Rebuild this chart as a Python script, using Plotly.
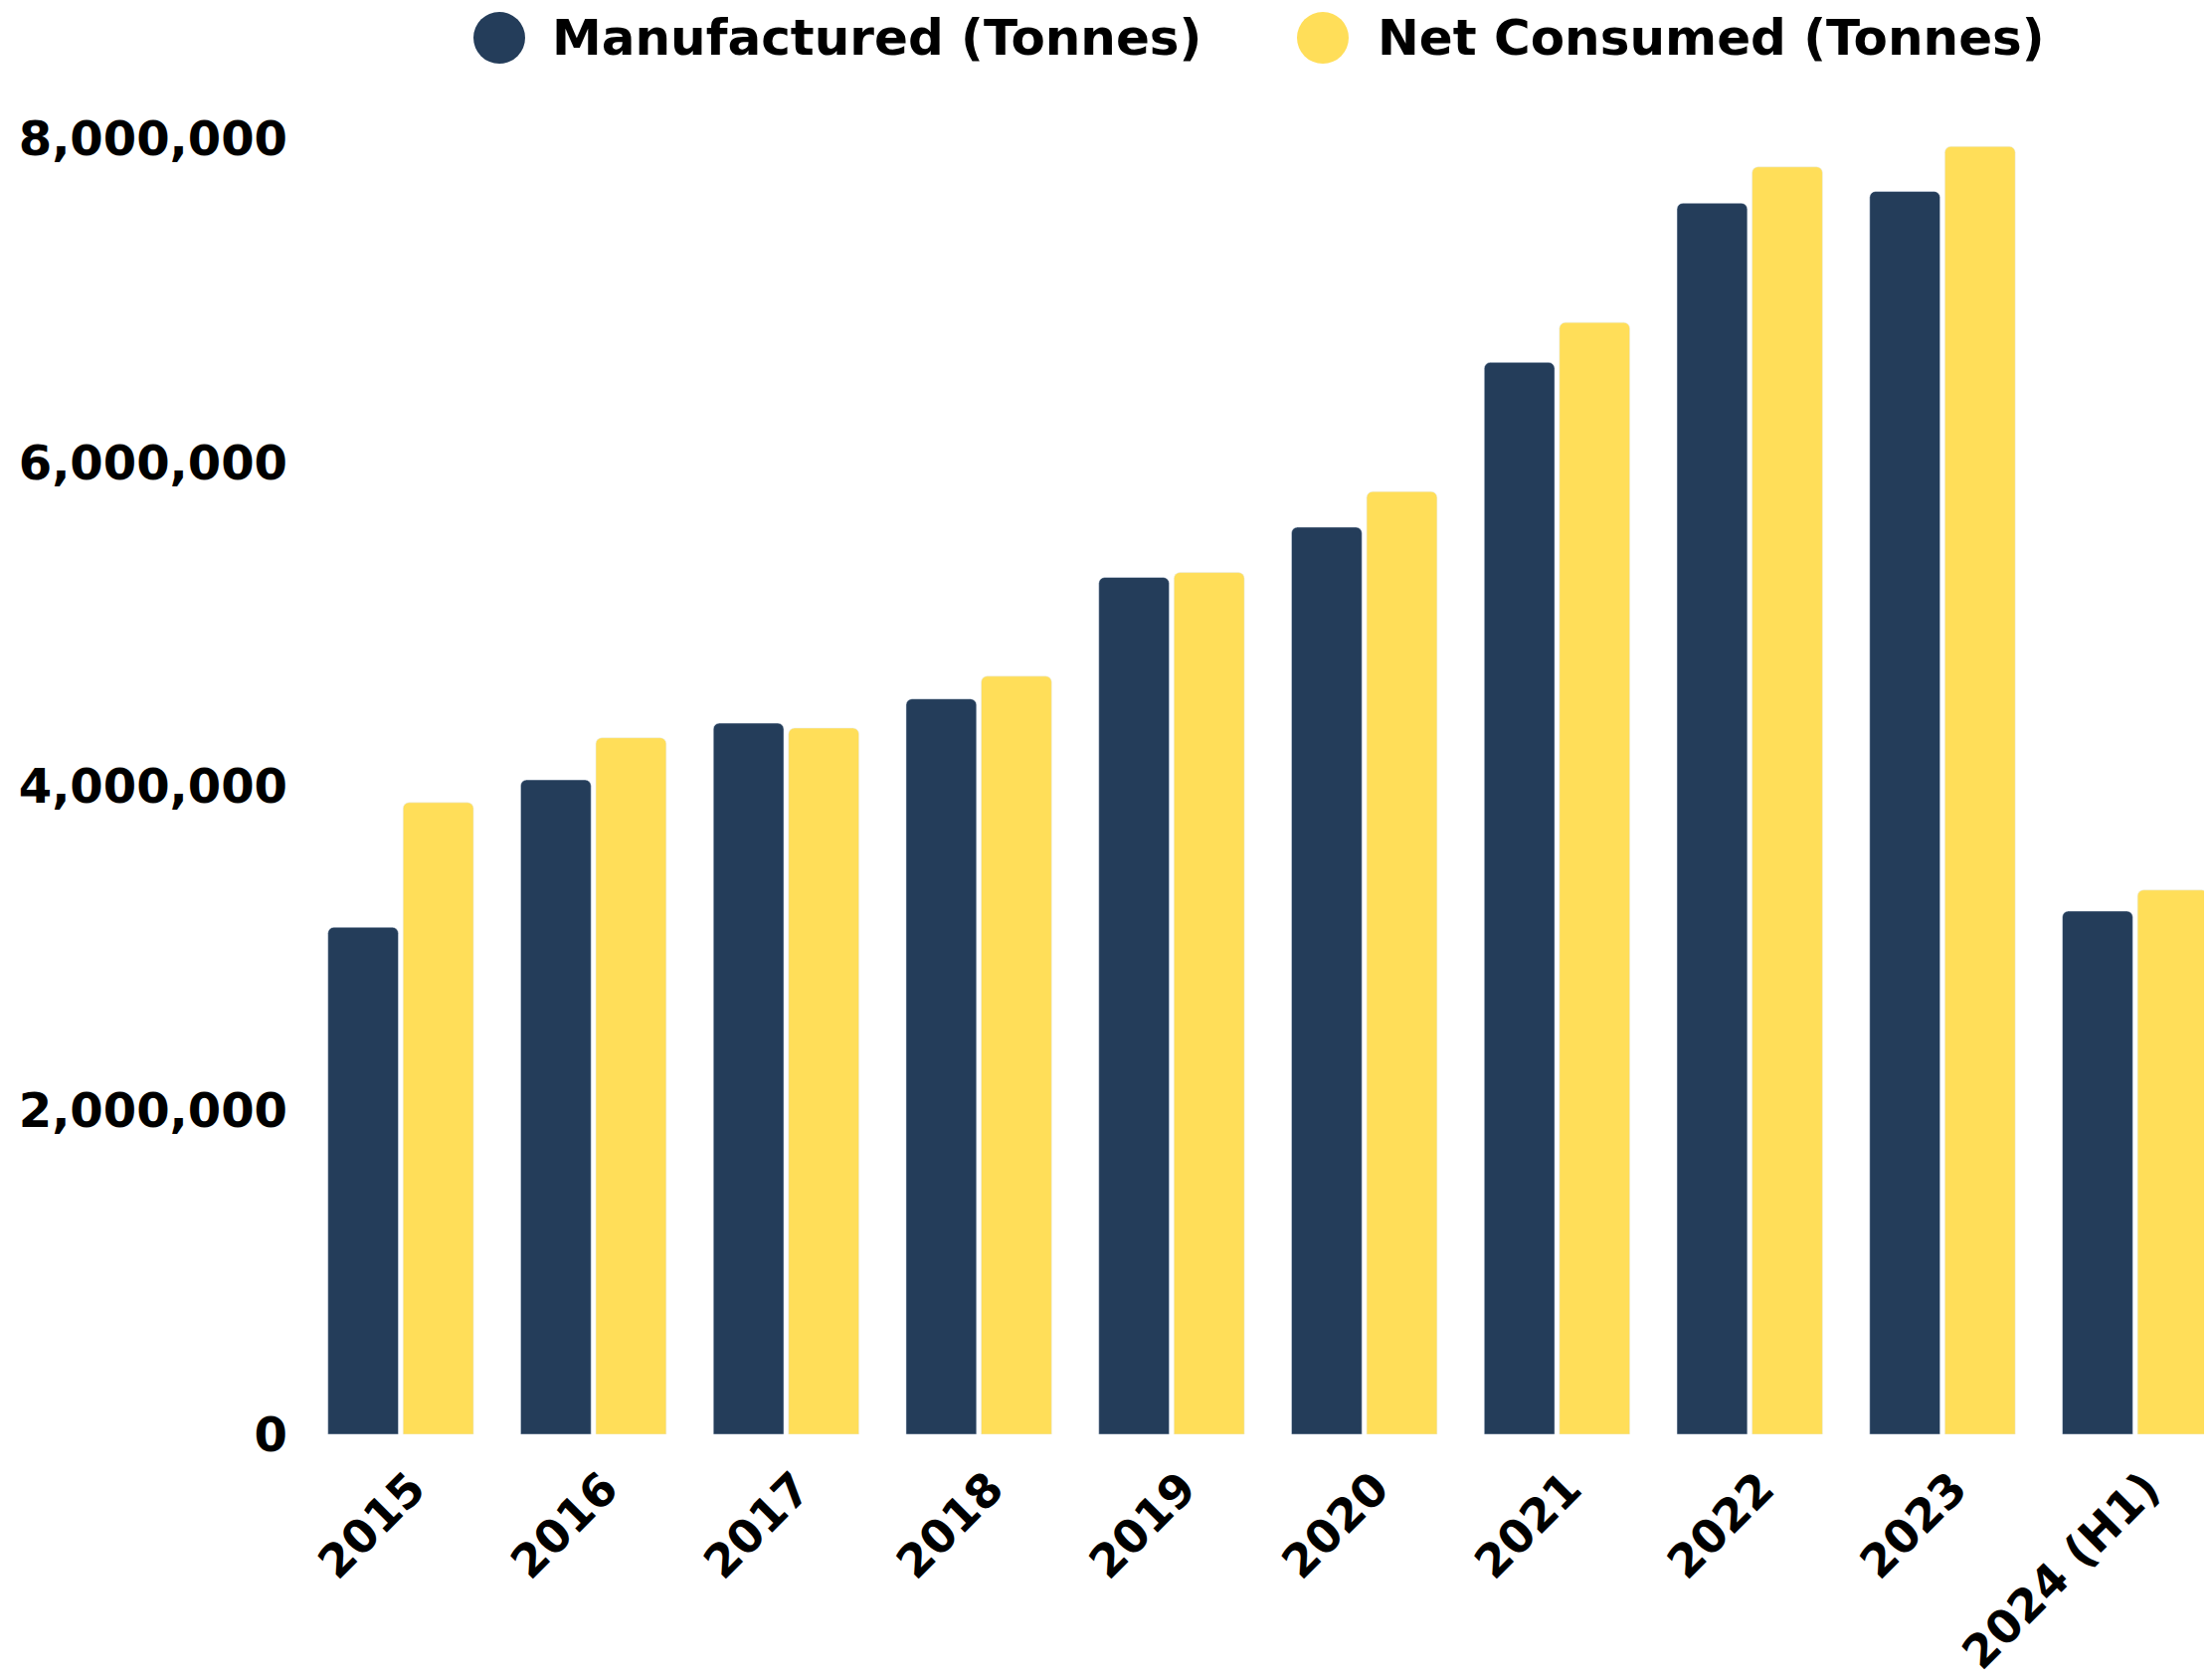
import plotly.graph_objects as go

years = ["2015", "2016", "2017", "2018", "2019", "2020", "2021", "2022", "2023", "2024 (H1)"]
manufactured = [3130000, 4040000, 4390000, 4540000, 5290000, 5600000, 6617000, 7600000, 7673000, 3230000]
net_consumed = [3900000, 4300000, 4360000, 4680000, 5320000, 5820000, 6864000, 7824000, 7950000, 3360000]
y_ticks = [0, 2000000, 4000000, 6000000, 8000000]
series_names = ["Manufactured (Tonnes)", "Net Consumed (Tonnes)"]

DARK = "#243D5A"
YELLOW = "#FFDE59"
FONT = "DejaVu Sans"

W, H = 2224, 1688
ML, MR, MT, MB = 298, 0, 66, 254
PW = W - ML - MR
PH = H - MT - MB

fig = go.Figure()
fig.add_bar(x=years, y=manufactured, name=series_names[0], marker_color=DARK, showlegend=False)
fig.add_bar(x=years, y=net_consumed, name=series_names[1], marker_color=YELLOW, showlegend=False)

fig.update_layout(
    width=W, height=H,
    margin=dict(l=ML, r=MR, t=MT, b=MB, pad=0),
    paper_bgcolor="white", plot_bgcolor="white",
    barmode="group", bargap=0.22, bargroupgap=0.063, barcornerradius=6,
    font=dict(family=FONT, color="black", size=46, weight="bold"),
)
fig.update_xaxes(
    type="category", range=[-0.5, 9.44], tickangle=-45,
    tickfont=dict(family=FONT, size=46, weight="bold", color="black"),
    showgrid=False, showline=False, zeroline=False, ticks="", automargin=False,
    ticklabelstandoff=17, ticklabelshift=11,
)
fig.update_yaxes(
    range=[0, 8400000], tickvals=y_ticks, tickformat=",",
    tickfont=dict(family=FONT, size=48, weight="bold", color="black"),
    showgrid=False, showline=False, zeroline=False, ticks="",
    ticklabelstandoff=16, automargin=False,
)

# manual legend (large circle markers)
def px_to_paper_x(px):
    return (px - ML) / PW

def py_to_paper_y(py):
    return (H - MB - py) / PH

legend_items = [(494, 545, DARK, series_names[0]), (1322, 1375, YELLOW, series_names[1])]
ly = py_to_paper_y(30)
r = 26
for cx, tx, col, name in legend_items:
    fig.add_shape(type="circle", xref="paper", yref="paper",
                  xsizemode="pixel", ysizemode="pixel",
                  xanchor=px_to_paper_x(cx), yanchor=ly,
                  x0=-r, x1=r, y0=-r, y1=r,
                  fillcolor=col, line=dict(width=0), layer="above")
    fig.add_annotation(x=px_to_paper_x(tx), y=ly, xref="paper", yref="paper",
                       text=name, showarrow=False, xanchor="left", yanchor="middle",
                       font=dict(family=FONT, size=50, weight="bold", color="black"))

fig.write_html("out.html")
